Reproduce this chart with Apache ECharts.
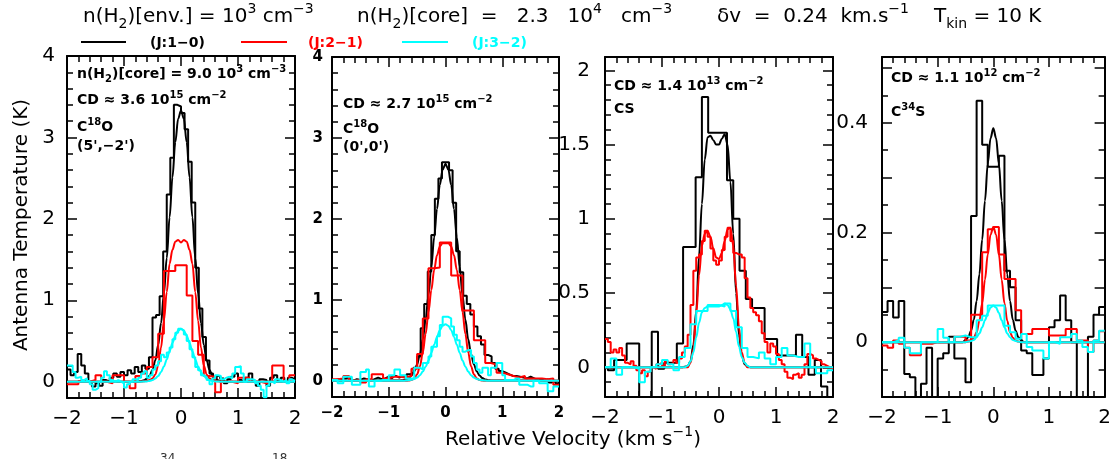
<!DOCTYPE html>
<html>
<head>
<meta charset="utf-8">
<script src="https://cdn.jsdelivr.net/npm/echarts@6/dist/echarts.min.js"></script>
<style>
  html, body { margin: 0; padding: 0; background: #fff; }
  #chart { width: 1114px; height: 459px; }
</style>
</head>
<body>
<div id="chart"></div>
<script>
const FONT = '"DejaVu Sans", Verdana, sans-serif';

// ---- velocity axis (km/s) ----
const velTicks = [-2, -1, 0, 1, 2];

// model curves are sampled on this velocity grid, zero outside it
const modelVel = [-0.8, -0.75, -0.7, -0.65, -0.6, -0.55, -0.5, -0.45, -0.4, -0.35, -0.3, -0.25, -0.2, -0.15, -0.1, -0.05,
  0, 0.05, 0.1, 0.15, 0.2, 0.25, 0.3, 0.35, 0.4, 0.45, 0.5, 0.55, 0.6, 0.65, 0.7, 0.75, 0.8];

// ---- panel 1: C18O at (5',-2') ----
const p1ChanBlack = [-2, 0.0625];
const p1ObsBlack = [0.15, 0.08, 0.12, 0.34, 0.2, 0.1, 0.0, -0.06, -0.02, -0.05, 0.02, 0.0, 0.05, 0.1, 0.06, 0.12,
  0.08, 0.14, 0.1, 0.18, 0.12, 0.2, 0.16, 0.3, 0.79, 0.82, 1.05, 1.6, 2.3, 2.75, 3.4, 3.38,
  3.3, 3.1, 2.7, 2.2, 1.4, 0.9, 0.55, 0.26, 0.1, 0.03, 0.07, 0.04, -0.02, 0.03, 0.06, 0.1,
  0.02, 0.0, 0.05, 0.1, 0.0, -0.05, 0.03, 0.02, -0.05, 0.05, 0.08, 0.02, 0.05, 0.0, 0.05, 0.03];
const p1ChanRed = [-2, 0.1];
const p1ObsRed = [-0.03, -0.03, 0.01, 0.0, 0.02, 0.08, 0.0, -0.02, 0.08, 0.08, 0.0, -0.08, 0.07, 0.1, 0.18, 0.3,
  0.59, 1.36, 1.36, 1.43, 1.43, 1.06, 0.5, 0.33, 0.07, 0.06, -0.13, 0.0, 0.0, -0.02, 0.05, 0.05,
  0.0, 0.0, -0.02, 0.0, 0.2, 0.2, 0.0, 0.08];
const p1ChanCyan = [-2, 0.05];
const p1ObsCyan = [0.2, 0.2, 0.12, 0.05, 0.06, 0.02, 0.04, 0.01, -0.03, -0.1,
  -0.08, 0.0, 0.05, 0.13, 0.08, 0.02, 0.0, 0.02, 0.0, -0.02,
  -0.07, -0.03, 0.0, 0.03, 0.02, 0.05, 0.1, 0.13, 0.05, 0.08,
  0.15, 0.2, 0.25, 0.33, 0.3, 0.36, 0.42, 0.52, 0.6, 0.65,
  0.63, 0.58, 0.5, 0.4, 0.3, 0.18, 0.14, 0.08, 0.06, 0.02,
  -0.03, 0.04, 0.08, 0.07, 0.03, 0.05, 0.06, 0.04, 0.1, 0.18,
  0.19, 0.1, 0.0, 0.03, 0.03, 0.02, -0.02, -0.05, -0.1, -0.19,
  -0.05, 0.0, -0.02, 0.03, 0.02, 0.0, 0.02, -0.02, 0.03, 0.01];
const p1ModBlack = [0.0, 0.003, 0.007, 0.017, 0.037, 0.076, 0.146, 0.264, 0.451, 0.72, 1.08, 1.52, 2.02, 2.51, 2.94, 3.23,
  3.33, 3.23, 2.94, 2.51, 2.02, 1.52, 1.08, 0.72, 0.451, 0.264, 0.146, 0.076, 0.037, 0.017, 0.007, 0.003, 0.0];
const p1ModRed = [0, 0, 0.002, 0.005, 0.01, 0.02, 0.04, 0.09, 0.2, 0.42, 0.75, 1.1, 1.45, 1.62, 1.72, 1.74,
  1.71, 1.74, 1.72, 1.62, 1.45, 1.1, 0.75, 0.42, 0.2, 0.09, 0.04, 0.02, 0.01, 0.005, 0.002, 0, 0];
const p1ModCyan = [0, 0, 0.001, 0.002, 0.004, 0.01, 0.02, 0.04, 0.071, 0.119, 0.187, 0.273, 0.374, 0.476, 0.566, 0.628,
  0.65, 0.628, 0.566, 0.476, 0.374, 0.273, 0.187, 0.119, 0.071, 0.04, 0.02, 0.01, 0.004, 0.002, 0.001, 0, 0];

// ---- panel 2: C18O at (0',0') ----
const p2ChanBlack = [-2, 0.0625];
const p2ObsBlack = [0.01, 0.02, 0.0, 0.03, 0.05, 0.0, 0.02, 0.01, 0.03, 0.02, 0.0, 0.02, 0.04, 0.02, 0.03, 0.05,
  0.03, 0.06, 0.04, 0.06, 0.05, 0.08, 0.1, 0.16, 0.3, 0.65, 0.95, 1.35, 1.8, 2.25, 2.5, 2.7,
  2.7, 2.6, 2.2, 1.6, 1.34, 1.05, 0.95, 0.82, 0.67, 0.55, 0.45, 0.32, 0.3, 0.22, 0.15, 0.12,
  0.1, 0.08, 0.06, 0.06, 0.05, 0.04, 0.03, 0.05, 0.03, 0.01, 0.02, 0.0, 0.02, -0.02, 0.0, -0.03];
const p2ChanRed = [-2, 0.1];
const p2ObsRed = [0.02, 0.03, 0.06, 0.0, 0.01, -0.02, 0.02, 0.08, 0.08, 0.03,
  0.05, 0.05, 0.04, 0.06, 0.15, 0.33, 0.77, 1.39, 1.4, 1.71,
  1.71, 1.3, 1.3, 0.87, 0.87, 0.5, 0.5, 0.22, 0.2, 0.1,
  0.08, 0.06, 0.04, 0.06, 0.03, 0.03, 0.03, 0.02, 0.03, -0.05];
const p2ChanCyan = [-2, 0.05];
const p2ObsCyan = [0.01, 0.01, -0.03, -0.03, 0.05, 0.05, 0.05, -0.05, -0.05, -0.05,
  0.11, 0.11, 0.14, -0.07, -0.07, 0.0, 0.0, 0.01, 0.01, 0.01,
  0.07, 0.07, 0.14, 0.14, 0.07, 0.07, 0.03, 0.03, 0.03, 0.16,
  0.16, 0.14, 0.22, 0.22, 0.3, 0.42, 0.42, 0.55, 0.69, 0.79,
  0.79, 0.77, 0.67, 0.57, 0.5, 0.42, 0.36, 0.38, 0.38, 0.3,
  0.22, 0.14, 0.1, 0.16, 0.16, 0.07, 0.16, 0.16, 0.22, 0.22,
  0.07, 0.01, 0.01, 0.01, 0.03, 0.03, -0.05, -0.05, -0.05, -0.07,
  -0.07, 0.0, 0.0, -0.03, -0.03, -0.03, -0.13, -0.13, -0.07, -0.07];
const p2ModBlack = [0.004, 0.008, 0.017, 0.034, 0.065, 0.118, 0.203, 0.331, 0.513, 0.756, 1.06, 1.41, 1.77, 2.12, 2.42, 2.61,
  2.68, 2.61, 2.42, 2.12, 1.77, 1.41, 1.06, 0.756, 0.513, 0.331, 0.203, 0.118, 0.065, 0.034, 0.017, 0.008, 0.004];
const p2ModRed = [0, 0, 0, 0.003, 0.01, 0.03, 0.08, 0.18, 0.35, 0.58, 0.85, 1.12, 1.37, 1.55, 1.66, 1.7,
  1.7, 1.7, 1.66, 1.55, 1.37, 1.12, 0.85, 0.58, 0.35, 0.18, 0.08, 0.03, 0.01, 0.003, 0, 0, 0];
const p2ModCyan = [0, 0.001, 0.003, 0.006, 0.012, 0.023, 0.041, 0.07, 0.114, 0.175, 0.252, 0.345, 0.445, 0.542, 0.625, 0.68,
  0.7, 0.68, 0.625, 0.542, 0.445, 0.345, 0.252, 0.175, 0.114, 0.07, 0.041, 0.023, 0.012, 0.006, 0.003, 0.001, 0];

// ---- panel 3: CS ----
const p3ChanBlack = [-2.06, 0.11];
const p3ObsBlack = [0.0, -0.02, 0.05, 0.05, 0.16, 0.16, -0.3, -0.3, 0.24, -0.01,
  0.03, 0.03, 0.16, 0.81, 0.81, 1.28, 1.82, 1.58, 1.58, 1.58,
  1.26, 1.0, 0.65, 0.46, 0.4, 0.4, 0.19, 0.19, 0.08, 0.08,
  0.08, 0.22, 0.07, -0.05, 0.05, -0.13, -0.3, -0.3];
const p3ChanRed = [-2, 0.05];
const p3ObsRed = [0.19, 0.17, 0.1, 0.12, 0.1, 0.13, 0.08, 0.03, 0.02, 0.04,
  0.01, -0.02, -0.04, -0.02, -0.06, -0.03, 0.0, -0.01, 0.02, 0.03,
  0.01, 0.04, 0.02, 0.03, 0.05, 0.03, 0.06, 0.1, 0.14, 0.22,
  0.42, 0.65, 0.74, 0.76, 0.85, 0.92, 0.88, 0.8, 0.72, 0.69,
  0.72, 0.79, 0.88, 0.94, 0.85, 0.77, 0.76, 0.76, 0.74, 0.6,
  0.47, 0.4, 0.37, 0.35, 0.31, 0.23, 0.17, 0.1, 0.16, 0.14,
  0.09, 0.05, 0.02, -0.03, -0.07, -0.08, -0.05, -0.04, -0.07, -0.05,
  0.02, 0.09, 0.08, 0.06, 0.05, 0.04, 0.02, 0.01, 0.0, -0.01];
const p3ChanCyan = [-2, 0.1];
const p3ObsCyan = [0.0, 0.06, -0.05, 0.0, 0.0, -0.01, -0.1, -0.03, 0.0, 0.02,
  0.05, 0.02, -0.02, 0.07, 0.13, 0.29, 0.38, 0.38, 0.42, 0.42,
  0.41, 0.43, 0.38, 0.27, 0.13, 0.07, 0.06, 0.1, 0.06, 0.02,
  0.07, 0.13, 0.08, 0.07, 0.07, 0.16, 0.0, -0.04, -0.04, -0.02];
const p3ModBlack = [0, 0, 0, 0, 0.003, 0.01, 0.04, 0.15, 0.38, 0.75, 1.1, 1.4, 1.55, 1.56, 1.53, 1.5,
  1.5, 1.54, 1.57, 1.5, 1.25, 0.9, 0.5, 0.22, 0.08, 0.02, 0.005, 0, 0, 0, 0, 0, 0];
const p3ModRed = [0, 0, 0, 0, 0, 0, 0.03, 0.12, 0.35, 0.62, 0.82, 0.9, 0.92, 0.88, 0.8, 0.74,
  0.73, 0.77, 0.85, 0.93, 0.94, 0.82, 0.55, 0.27, 0.1, 0.03, 0, 0, 0, 0, 0, 0, 0];
const p3ModCyan = [0, 0, 0, 0, 0, 0.01, 0.04, 0.1, 0.2, 0.3, 0.37, 0.4, 0.41, 0.41, 0.41, 0.41,
  0.41, 0.42, 0.43, 0.42, 0.39, 0.33, 0.24, 0.14, 0.07, 0.03, 0.01, 0, 0, 0, 0, 0, 0];

// ---- panel 4: C34S ----
const p4ChanBlack = [-2, 0.1];
const p4ObsBlack = [0.055, 0.075, 0.045, 0.075, -0.058, -0.064, -0.12, -0.076, -0.01, -0.12,
  -0.03, -0.02, 0.01, -0.03, -0.03, -0.073, 0.23, 0.44, 0.36, 0.32,
  0.32, 0.34, 0.13, 0.1, 0.04, -0.015, -0.02, -0.06, -0.06, -0.03,
  0.027, 0.04, 0.085, 0.04, 0.0, -0.12, -0.12, 0.01, 0.05, 0.064];
const p4ChanRed = [-2, 0.1];
const p4ObsRed = [-0.006, -0.01, 0.003, -0.003, -0.01, -0.024, -0.024, -0.003, -0.003, 0.0,
  0.0, 0.0, 0.0, 0.01, 0.01, 0.003, 0.05, 0.05, 0.164, 0.206,
  0.21, 0.16, 0.115, 0.115, 0.058, 0.015, 0.015, 0.024, 0.024, 0.024,
  0.012, 0.012, 0.012, 0.024, 0.024, 0.003, 0.003, -0.018, 0.003, 0.02];
const p4ChanCyan = [-2, 0.1];
const p4ObsCyan = [0.0, 0.0, 0.003, 0.008, -0.01, -0.02, -0.02, 0.0, 0.0, 0.0,
  0.024, 0.008, 0.0, 0.01, 0.012, 0.009, 0.009, 0.04, 0.048, 0.067,
  0.067, 0.067, 0.03, 0.018, 0.006, 0.015, -0.009, -0.015, -0.015, -0.03,
  0.0, -0.003, 0.009, 0.009, 0.015, 0.003, -0.009, -0.018, 0.003, 0.021];
const p4ModBlack = [0, 0, 0, 0, 0, 0, 0.004, 0.009, 0.021, 0.041, 0.075, 0.124, 0.187, 0.258, 0.325, 0.372,
  0.39, 0.372, 0.325, 0.258, 0.187, 0.124, 0.075, 0.041, 0.021, 0.009, 0.004, 0, 0, 0, 0, 0, 0];
const p4ModRed = [0, 0, 0, 0, 0, 0, 0, 0.001, 0.003, 0.008, 0.018, 0.039, 0.071, 0.114, 0.16, 0.196,
  0.21, 0.196, 0.16, 0.114, 0.071, 0.039, 0.018, 0.008, 0.003, 0.001, 0, 0, 0, 0, 0, 0, 0];
const p4ModCyan = [0, 0, 0, 0, 0, 0, 0, 0.001, 0.002, 0.004, 0.009, 0.016, 0.027, 0.04, 0.053, 0.063,
  0.067, 0.063, 0.053, 0.04, 0.027, 0.016, 0.009, 0.004, 0.002, 0.001, 0, 0, 0, 0, 0, 0, 0];

// ---- temperature axes (K) ----
const yRanges = [[-0.2, 4], [-0.2, 4], [-0.2, 2.09], [-0.1, 0.52]];
const yMajorTicks = [[0, 1, 2, 3, 4], [0, 1, 2, 3, 4], [0, 0.5, 1, 1.5, 2], [0, 0.1, 0.2, 0.3, 0.4, 0.5]];
const yTickLabels = [[0, 1, 2, 3, 4], [0, 1, 2, 3, 4], [0, 0.5, 1, 1.5, 2], [0, 0.2, 0.4]];
const yMinorStep = [0.2, 0.2, 0.1, 0.05];

// ---- layout ----
const panelRects = [
  { left: 67, top: 56, width: 228, height: 342 },
  { left: 332, top: 57, width: 227, height: 340 },
  { left: 605, top: 57, width: 228, height: 340 },
  { left: 882, top: 57, width: 226, height: 340 }
];
const tickFonts = [
  { size: 20, weight: 'normal', yMargin: 12, xMargin: 11 },
  { size: 15, weight: 'bold', yMargin: 9, xMargin: 9 },
  { size: 20, weight: 'normal', yMargin: 15, xMargin: 11 },
  { size: 20, weight: 'normal', yMargin: 14, xMargin: 11 }
];
const COLORS = { black: '#000000', red: '#ff0000', cyan: '#00ffff' };

const panels = [
  { obs: [[p1ObsBlack, p1ChanBlack], [p1ObsRed, p1ChanRed], [p1ObsCyan, p1ChanCyan]], mod: [p1ModBlack, p1ModRed, p1ModCyan] },
  { obs: [[p2ObsBlack, p2ChanBlack], [p2ObsRed, p2ChanRed], [p2ObsCyan, p2ChanCyan]], mod: [p2ModBlack, p2ModRed, p2ModCyan] },
  { obs: [[p3ObsBlack, p3ChanBlack], [p3ObsRed, p3ChanRed], [p3ObsCyan, p3ChanCyan]], mod: [p3ModBlack, p3ModRed, p3ModCyan] },
  { obs: [[p4ObsBlack, p4ChanBlack], [p4ObsRed, p4ChanRed], [p4ObsCyan, p4ChanCyan]], mod: [p4ModBlack, p4ModRed, p4ModCyan] }
];

// channel histogram: left edge of each channel, plus the right edge of the last one
function histogram(values, chan) {
  const [v0, dv] = chan;
  const pts = values.map((t, k) => [v0 + k * dv, t]);
  pts.push([v0 + values.length * dv, values[values.length - 1]]);
  return pts;
}
function modelCurve(values) {
  return [[-2, 0]].concat(modelVel.map((v, i) => [v, values[i]]), [[2, 0]]);
}
function minorTicks(range, step, majors) {
  const out = [];
  const n = Math.round((range[1] - range[0]) / step);
  for (let i = 1; i < n; i++) {
    const v = Math.round((range[0] + i * step) * 1000) / 1000;
    if (v <= range[0] || v >= range[1]) continue;
    if (majors.some(m => Math.abs(m - v) < 1e-6)) continue;
    out.push(v);
  }
  return out;
}
const minus = v => (v < 0 ? '\u2212' + Math.abs(v) : String(v));

const grids = [], xAxes = [], yAxes = [], series = [];
const AX = { color: '#000', width: 2 };
const TK = { color: '#000', width: 1.5 };

panels.forEach((p, i) => {
  grids.push(Object.assign({ show: false }, panelRects[i]));
  const tf = tickFonts[i];
  const xBase = {
    gridIndex: i, type: 'value', min: -2, max: 2, interval: 1,
    splitLine: { show: false },
    axisLine: { show: true, onZero: false, lineStyle: AX },
    axisTick: { show: true, inside: true, length: 10, lineStyle: TK },
    minorTick: { show: true, splitNumber: 5, length: 6, lineStyle: TK },
    minorSplitLine: { show: false }
  };
  xAxes.push(Object.assign({}, xBase, {
    position: 'bottom',
    axisLabel: { show: true, margin: tf.xMargin, color: '#000', fontSize: tf.size, fontWeight: tf.weight, fontFamily: FONT, formatter: minus, customValues: velTicks }
  }));
  xAxes.push(Object.assign({}, xBase, { position: 'top', axisLabel: { show: false } }));

  const rng = yRanges[i];
  const minors = minorTicks(rng, yMinorStep[i], yMajorTicks[i]);
  const yBase = { gridIndex: i, type: 'value', min: rng[0], max: rng[1], splitLine: { show: false } };
  ['left', 'right'].forEach(side => {
    yAxes.push(Object.assign({}, yBase, {
      position: side,
      axisLine: { show: true, onZero: false, lineStyle: AX },
      axisTick: { show: true, inside: true, length: 10, lineStyle: TK, customValues: yMajorTicks[i] },
      axisLabel: side === 'left'
        ? { show: true, margin: tf.yMargin, color: '#000', fontSize: tf.size, fontWeight: tf.weight, fontFamily: FONT, formatter: minus, customValues: yTickLabels[i] }
        : { show: false }
    }));
    yAxes.push(Object.assign({}, yBase, {
      position: side,
      axisLine: { show: false, onZero: false },
      axisTick: { show: true, inside: true, length: 6, lineStyle: TK, customValues: minors },
      axisLabel: { show: false }
    }));
  });

  const cols = [COLORS.black, COLORS.red, COLORS.cyan];
  cols.forEach((c, j) => {
    const [vals, chan] = p.obs[j];
    series.push({
      type: 'line', xAxisIndex: 2 * i, yAxisIndex: 4 * i, step: 'end',
      data: histogram(vals, chan), showSymbol: false, silent: true, clip: true,
      lineStyle: { color: c, width: 2 }, z: 2 + j
    });
    series.push({
      type: 'line', xAxisIndex: 2 * i, yAxisIndex: 4 * i, smooth: 0.35, smoothMonotone: 'x',
      data: modelCurve(p.mod[j]), showSymbol: false, silent: true, clip: true,
      lineStyle: { color: c, width: 2 }, z: 2 + j
    });
  });
});

// ---- text ----
function rt(x, y, text, size, opts) {
  opts = opts || {};
  const fill = opts.fill || '#000';
  const weight = opts.weight || 'normal';
  const sup = opts.sup || Math.round(size * 0.68);
  return {
    type: 'text', x: x, y: y, rotation: opts.rotation || 0, z: 10, silent: true,
    style: {
      text: text, fill: fill, fontSize: size, fontFamily: FONT, fontWeight: weight,
      lineHeight: Math.round(size * 1.45), align: opts.align || 'left', verticalAlign: 'middle',
      rich: {
        p: { fontSize: sup, lineHeight: sup, verticalAlign: 'top', fontFamily: FONT, fontWeight: weight, fill: fill },
        b: { fontSize: sup, lineHeight: sup, verticalAlign: 'bottom', fontFamily: FONT, fontWeight: weight, fill: fill }
      }
    }
  };
}
function seg(x1, x2, y, color) {
  return { type: 'line', z: 10, silent: true, shape: { x1: x1, y1: y, x2: x2, y2: y }, style: { stroke: color, lineWidth: 2 } };
}

const graphics = [
  rt(83, 17, 'n(H{b|2})[env.] = 10{p|3} cm{p|\u22123}', 20),
  rt(357, 17, 'n(H{b|2})[core]  =   2.3   10{p|4}   cm{p|\u22123}', 20),
  rt(717, 17, '\u03b4v  =  0.24  km.s{p|\u22121}', 20),
  rt(934, 17, 'T{b|kin} = 10 K', 20),

  seg(81, 126, 42, COLORS.black),
  rt(150, 43, '(J:1\u22120)', 14, { weight: 'bold' }),
  seg(241, 287, 42, COLORS.red),
  rt(308, 43, '(J:2\u22121)', 14, { weight: 'bold', fill: COLORS.red }),
  seg(402, 448, 42, COLORS.cyan),
  rt(472, 43, '(J:3\u22122)', 14, { weight: 'bold', fill: COLORS.cyan }),

  rt(77, 74, 'n(H{b|2})[core] = 9.0 10{p|3} cm{p|\u22123}', 14, { weight: 'bold', sup: 10 }),
  rt(77, 100, 'CD \u2248 3.6 10{p|15} cm{p|\u22122}', 14, { weight: 'bold', sup: 10 }),
  rt(77, 127, 'C{p|18}O', 14, { weight: 'bold', sup: 10 }),
  rt(77, 146, "(5',\u22122')", 14, { weight: 'bold', sup: 10 }),

  rt(343, 104, 'CD \u2248 2.7 10{p|15} cm{p|\u22122}', 14, { weight: 'bold', sup: 10 }),
  rt(343, 129, 'C{p|18}O', 14, { weight: 'bold', sup: 10 }),
  rt(343, 147, "(0',0')", 14, { weight: 'bold', sup: 10 }),

  rt(614, 86, 'CD \u2248 1.4 10{p|13} cm{p|\u22122}', 14, { weight: 'bold', sup: 10 }),
  rt(614, 109, 'CS', 14, { weight: 'bold', sup: 10 }),

  rt(891, 78, 'CD \u2248 1.1 10{p|12} cm{p|\u22122}', 14, { weight: 'bold', sup: 10 }),
  rt(891, 112, 'C{p|34}S', 14, { weight: 'bold', sup: 10 }),

  rt(22, 225, 'Antenna Temperature (K)', 20, { rotation: Math.PI / 2, align: 'center' }),
  rt(573, 440, 'Relative Velocity (km s{p|\u22121})', 20, { align: 'center' }),

  rt(160, 459, '34', 12, { fill: '#333' }),
  rt(272, 459, '18', 12, { fill: '#333' })
];

const chart = echarts.init(document.getElementById('chart'), null, { renderer: 'canvas' });
chart.setOption({
  animation: false,
  backgroundColor: '#fff',
  grid: grids,
  xAxis: xAxes,
  yAxis: yAxes,
  series: series,
  graphic: graphics
});
</script>
</body>
</html>
